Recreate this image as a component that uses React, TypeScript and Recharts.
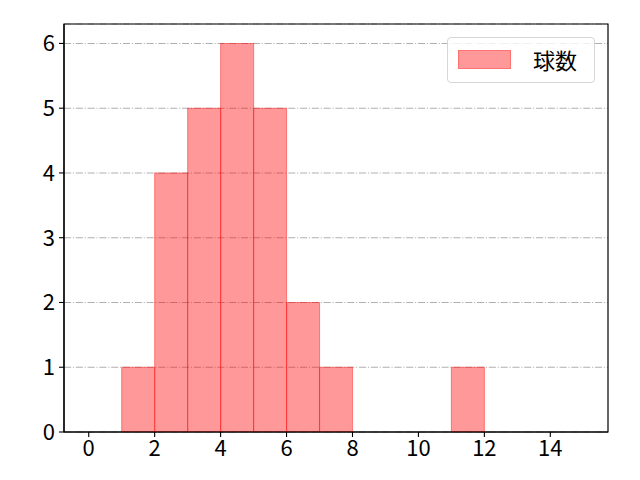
import { Bar, BarChart, CartesianGrid, ReferenceArea, XAxis, YAxis } from "recharts";

// histogram bins of width 1 from 0 to 15 (centres)
const binCentres = [0.5, 1.5, 2.5, 3.5, 4.5, 5.5, 6.5, 7.5, 8.5, 9.5, 10.5, 11.5, 12.5, 13.5, 14.5];
const counts = [0, 1, 4, 5, 6, 5, 2, 1, 0, 0, 0, 1, 0, 0, 0];
const xTicks = [0, 2, 4, 6, 8, 10, 12, 14];
const yTicks = [0, 1, 2, 3, 4, 5, 6];
const seriesName = "球数";

const X_DOMAIN: [number, number] = [-0.75, 15.75];
const Y_DOMAIN: [number, number] = [0, 6.3];

// empty bins would draw a flat stroked line on the baseline, so skip them
const data = binCentres.map((x, i) => ({ x, count: counts[i] })).filter((d) => d.count > 0);

const FONT = "'Noto Sans CJK JP', 'Noto Sans', sans-serif";
const tickStyle = { fontSize: 22, fill: "#000", fontFamily: FONT };

const LegendBox = () => (
  <div
    style={{
      position: "absolute",
      left: 447,
      top: 37,
      width: 148,
      height: 46,
      boxSizing: "border-box",
      border: "1px solid #d6d6d6",
      borderRadius: 4,
      background: "rgba(255,255,255,0.8)",
      fontFamily: FONT,
    }}
  >
    <div
      style={{
        position: "absolute",
        left: 10,
        top: 12,
        width: 53,
        height: 19,
        boxSizing: "border-box",
        background: "rgba(255,0,0,0.4)",
        border: "1px solid rgba(255,0,0,0.25)",
      }}
    />
    <div style={{ position: "absolute", left: 85, top: 6, fontSize: 22, lineHeight: "30px", color: "#000" }}>
      {seriesName}
    </div>
  </div>
);

export default function App() {
  return (
    <div style={{ position: "absolute", left: 0, top: 0, width: 640, height: 480, background: "#fff", fontFamily: FONT }}>
      <BarChart
        width={640}
        height={480}
        data={data}
        margin={{ top: 24, right: 32, bottom: 18, left: 0 }}
        barCategoryGap={0}
        barGap={0}
      >
        <CartesianGrid
          vertical={false}
          stroke="#b0b0b0"
          strokeWidth={1.1}
          strokeDasharray="7.1 1.8 1.1 1.8"
        />
        <XAxis
          dataKey="x"
          type="number"
          domain={X_DOMAIN}
          ticks={xTicks}
          allowDataOverflow
          height={30}
          fontSize={22}
          tick={tickStyle}
          tickSize={5}
          tickMargin={3}
          axisLine={{ stroke: "#000", strokeWidth: 1.2 }}
          tickLine={{ stroke: "#000", strokeWidth: 1.1 }}
        />
        <YAxis
          type="number"
          domain={Y_DOMAIN}
          ticks={yTicks}
          allowDataOverflow
          width={64}
          fontSize={22}
          tick={tickStyle}
          tickSize={5}
          tickMargin={4}
          axisLine={{ stroke: "#000", strokeWidth: 1.2 }}
          tickLine={{ stroke: "#000", strokeWidth: 1.1 }}
        />
        <Bar
          dataKey="count"
          name={seriesName}
          fill="#ff0000"
          fillOpacity={0.4}
          stroke="#ff0000"
          strokeOpacity={0.4}
          strokeWidth={1.1}
          isAnimationActive={false}
        />
        {/* axes frame */}
        <ReferenceArea
          x1={X_DOMAIN[0]}
          x2={X_DOMAIN[1]}
          y1={Y_DOMAIN[0]}
          y2={Y_DOMAIN[1]}
          fill="none"
          fillOpacity={0}
          stroke="#000"
          strokeWidth={1.2}
          ifOverflow="visible"
        />
      </BarChart>
      <LegendBox />
    </div>
  );
}
